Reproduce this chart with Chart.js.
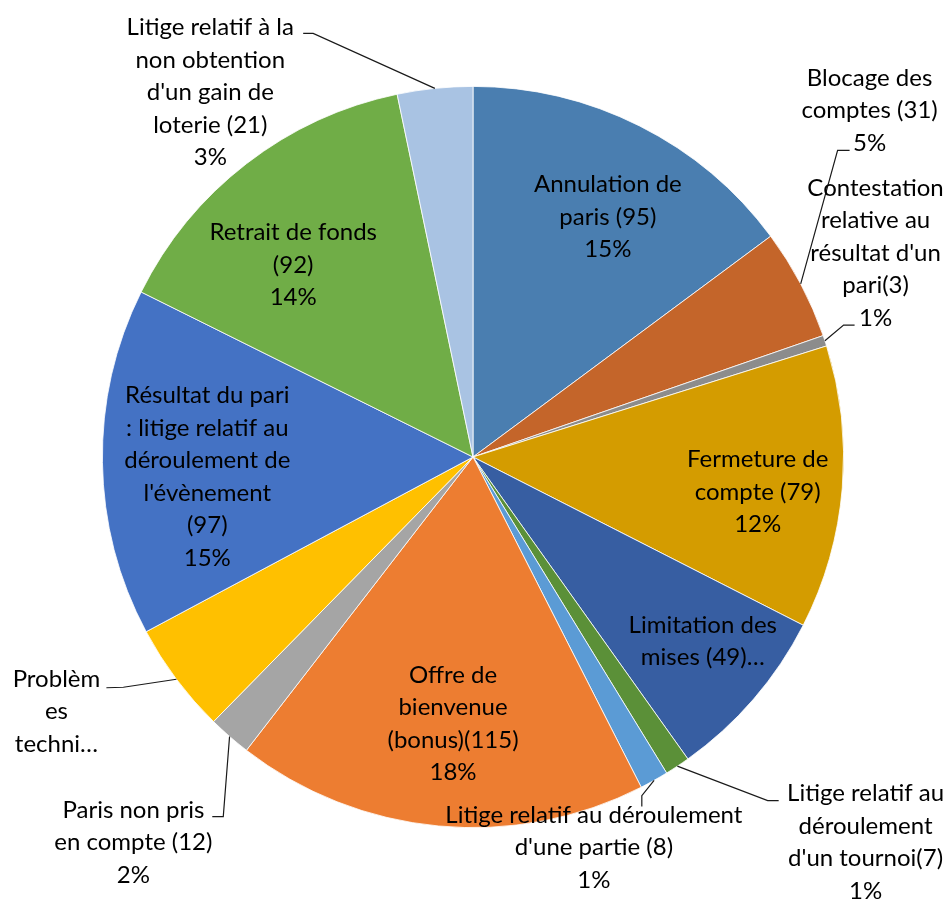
<!DOCTYPE html>
<html>
<head>
<meta charset="utf-8">
<script src="https://cdn.jsdelivr.net/npm/chart.js@4.4.3/dist/chart.umd.min.js"></script>
<style>
  html, body { margin: 0; padding: 0; background: #fff; }
  #wrap { position: relative; width: 950px; height: 899px; }
</style>
</head>
<body>
<div id="wrap"><canvas id="pieChart"></canvas></div>
<script>
// Chart data
const categories = [
  "Annulation de paris (95)",
  "Blocage des comptes (31)",
  "Contestation relative au résultat d'un pari(3)",
  "Fermeture de compte (79)",
  "Limitation des mises (49)",
  "Litige relatif au déroulement d'un tournoi(7)",
  "Litige relatif au déroulement d'une partie (8)",
  "Offre de bienvenue (bonus)(115)",
  "Paris non pris en compte (12)",
  "Problèmes techniques (31)",
  "Résultat du pari : litige relatif au déroulement de l'évènement (97)",
  "Retrait de fonds (92)",
  "Litige relatif à la non obtention d'un gain de loterie (21)"
];
const values = [95, 31, 3, 79, 49, 7, 8, 115, 12, 31, 97, 92, 21];
const pctLabels = ["15%", "5%", "1%", "12%", "", "1%", "1%", "18%", "2%", "", "15%", "14%", "3%"];

// wrapped label text as shown on the chart (some are cut off in the original)
const labelLines = [
  ["Annulation de", "paris (95)"],
  ["Blocage des", "comptes (31)"],
  ["Contestation", "relative au", "résultat d'un", "pari(3)"],
  ["Fermeture de", "compte (79)"],
  ["Limitation des", "mises (49)…"],
  ["Litige relatif au", "déroulement", "d'un tournoi(7)"],
  ["Litige relatif au déroulement", "d'une partie (8)"],
  ["Offre de", "bienvenue", "(bonus)(115)"],
  ["Paris non pris", "en compte (12)"],
  ["Problèm", "es", "techni…"],
  ["Résultat du pari", ": litige relatif au", "déroulement de", "l'évènement", "(97)"],
  ["Retrait de fonds", "(92)"],
  ["Litige relatif à la", "non obtention", "d'un gain de", "loterie (21)"]
];

const colors = [
  "#4A7EB0", "#C4652A", "#8C8C8C", "#D49C00", "#375EA2", "#5B9038", "#5B9BD5",
  "#ED7D31", "#A5A5A5", "#FFC000", "#4472C4", "#70AD47", "#A9C3E3"
];

// label placement, offsets from the pie centre for a radius of 371px
const labelLayout = [
  { c: [135, -240] },
  { c: [397, -347], elbow: [365, -307], end: [377, -307] },
  { c: [403, -204], elbow: [371, -132], end: [382, -132] },
  { c: [285, 35] },
  { c: [230, 184.5] },
  { c: [393, 385.5], elbow: [295, 344], end: [306, 344] },
  { c: [121, 391], elbow: [169, 339], end: [169, 350] },
  { c: [-20, 267] },
  { c: [-340, 386], elbow: [-250, 360], end: [-261, 360] },
  { c: [-417, 255], elbow: [-350, 230.5], end: [-367, 231] },
  { c: [-266, 20] },
  { c: [-180, -192] },
  { c: [-263, -365], elbow: [-160, -424], end: [-170, -424] }
];

const LINE_H = 32.5;

// draws data labels and leader lines
const pieLabels = {
  id: 'pieLabels',
  afterDatasetsDraw(chart) {
    const ctx = chart.ctx;
    const arcs = chart.getDatasetMeta(0).data;
    ctx.save();
    arcs.forEach((arc, i) => {
      const r = arc.outerRadius;
      const s = r / 371;
      const cx = arc.x, cy = arc.y;
      const lay = labelLayout[i];

      if (lay.elbow) {
        const mid = (arc.startAngle + arc.endAngle) / 2;
        ctx.beginPath();
        ctx.moveTo(cx + Math.cos(mid) * r, cy + Math.sin(mid) * r);
        ctx.lineTo(cx + lay.elbow[0] * s, cy + lay.elbow[1] * s);
        ctx.lineTo(cx + lay.end[0] * s, cy + lay.end[1] * s);
        ctx.strokeStyle = '#1a1a1a';
        ctx.lineWidth = 1.2;
        ctx.stroke();
      }

      const lines = labelLines[i].slice();
      if (pctLabels[i]) lines.push(pctLabels[i]);
      const tx = cx + lay.c[0] * s;
      const ty = cy + lay.c[1] * s - (lines.length - 1) * LINE_H / 2;
      ctx.font = '24px Lato';
      ctx.fillStyle = '#000';
      ctx.textAlign = 'center';
      ctx.textBaseline = 'middle';
      lines.forEach((t, k) => ctx.fillText(t, tx, ty + k * LINE_H));
    });
    ctx.restore();
  }
};

function drawChart() {
  new Chart(document.getElementById('pieChart'), {
    type: 'pie',
    data: {
      labels: categories,
      datasets: [{
        data: values,
        backgroundColor: colors,
        borderColor: '#ffffff',
        borderWidth: 0.8
      }]
    },
    options: {
      responsive: true,
      maintainAspectRatio: false,
      animation: false,
      layout: { padding: { top: 86, bottom: 71, left: 102, right: 106 } },
      plugins: {
        legend: { display: false },
        tooltip: { enabled: false }
      }
    },
    plugins: [pieLabels]
  });
}

document.fonts.load('24px Lato').then(drawChart, drawChart);
</script>
</body>
</html>
